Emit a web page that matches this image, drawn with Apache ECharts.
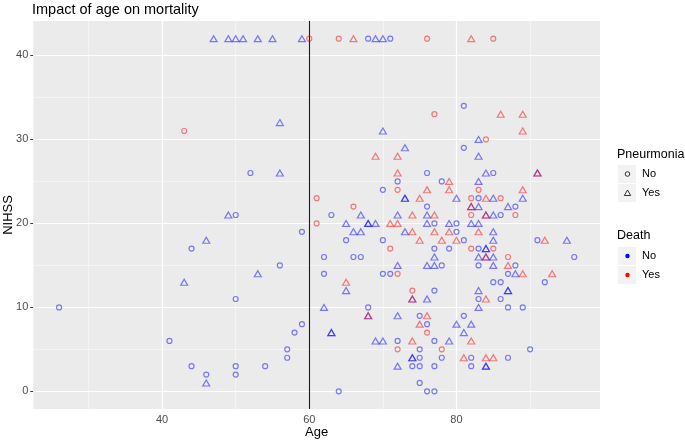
<!DOCTYPE html>
<html><head><meta charset="utf-8">
<script src="https://cdn.jsdelivr.net/npm/echarts@6/dist/echarts.min.js"></script>
<style>html,body{margin:0;padding:0;background:#fff}#c{width:685px;height:443px}</style>
</head><body><div id="c"></div>
<script>
// ---- data: [age, NIHSS] ----
const noPneuAlive = [[68,42],[71,42],[81,34],[81,29],[76,26],[85,26],[52,26],[72,25],[78,25],[70,24],[83,23],[76,22],[88,22],[63,21],[50,21],[86,21],[77,20],[80,20],[59,19],[80,19],[65,18],[70,18],[81,18],[91,18],[44,17],[77,17],[79,17],[83,17],[62,16],[66,16],[67,16],[96,16],[56,15],[78,15],[83,15],[88,15],[62,14],[70,14],[71,14],[87,14],[85,13],[86,13],[92,13],[77,12],[50,11],[83,11],[86,11],[26,10],[68,10],[87,10],[89,10],[75,9],[81,9],[59,8],[76,8],[58,7],[41,6],[72,6],[77,6],[57,5],[75,5],[90,5],[57,4],[75,4],[78,4],[82,4],[87,4],[44,3],[50,3],[54,3],[74,3],[75,3],[77,3],[82,3],[46,2],[50,2],[75,1],[64,0],[76,0],[77,0]];
const noPneuDied = [[60,42],[64,42],[76,42],[85,42],[77,33],[84,30],[43,31],[72,24],[83,24],[61,23],[82,23],[86,23],[66,22],[82,21],[88,21],[61,20],[71,17],[82,17],[85,17],[87,16],[72,14],[74,12],[76,7],[72,5],[78,5]];
const pneuAlive = [[47,42],[49,42],[50,42],[51,42],[53,42],[55,42],[59,42],[69,42],[70,42],[56,32],[70,31],[83,30],[73,29],[83,28],[56,26],[84,26],[91,26],[83,25],[73,23],[73,23],[80,23],[85,23],[89,23],[82,22],[83,22],[87,22],[49,21],[67,21],[72,21],[76,21],[84,21],[85,21],[65,20],[68,20],[68,20],[69,20],[76,20],[79,20],[82,20],[83,20],[66,19],[67,19],[73,19],[85,19],[46,18],[85,18],[95,18],[84,17],[84,17],[77,16],[83,16],[84,16],[85,16],[72,15],[76,15],[77,15],[85,15],[53,14],[88,14],[43,13],[65,12],[83,12],[87,12],[87,12],[74,11],[76,11],[62,10],[83,10],[68,9],[72,9],[80,8],[82,8],[63,7],[63,7],[81,7],[69,6],[70,6],[79,6],[74,4],[74,4],[72,3],[84,3],[84,3],[46,1]];
const pneuDied = [[66,42],[82,42],[86,33],[89,33],[89,31],[69,28],[72,28],[72,26],[91,26],[79,25],[76,24],[79,24],[89,24],[75,23],[84,23],[82,22],[74,21],[77,21],[84,21],[71,20],[72,20],[74,19],[77,19],[79,19],[83,19],[75,18],[78,18],[80,18],[92,18],[84,16],[87,15],[89,14],[93,14],[65,13],[84,11],[74,11],[68,9],[76,9],[75,8],[74,6],[82,6],[81,4],[84,4],[85,4]];

// ---- ticks / reference ----
const xMajor = [40, 60, 80];
const xMinor = [30, 50, 70, 90];
const yMajor = [0, 10, 20, 30, 40];
const yMinor = [5, 15, 25, 35];
const vlineAge = 60;
const xRange = [22.5, 99.5];
const yRange = [-2.1, 44.1];

const BLUE = 'rgba(0,0,255,0.62)';
const RED = 'rgba(255,0,0,0.62)';
const FONT = 'Liberation Sans, Arial, sans-serif';

function pts(data, shape, color) {
  return {
    type: 'scatter', data: data, z: 3,
    symbol: shape,
    symbolSize: shape === 'triangle' ? [7, 6] : 5,
    itemStyle: { color: 'rgba(0,0,0,0)', borderColor: color, borderWidth: 1.2 },
    emphasis: { disabled: true }
  };
}

const gridLines = [];
xMinor.forEach(v => gridLines.push({ xAxis: v, lineStyle: { type: 'solid', width: 0.6, color: '#FAFAFA' } }));
yMinor.forEach(v => gridLines.push({ yAxis: v, lineStyle: { type: 'solid', width: 0.6, color: '#FAFAFA' } }));
xMajor.forEach(v => gridLines.push({ xAxis: v, lineStyle: { type: 'solid', width: 1.2, color: '#FFFFFF' } }));
yMajor.forEach(v => gridLines.push({ yAxis: v, lineStyle: { type: 'solid', width: 1.2, color: '#FFFFFF' } }));

const chart = echarts.init(document.getElementById('c'), null, { renderer: 'canvas' });
const option = {
  animation: false,
  textStyle: { fontFamily: FONT },
  title: {
    text: 'Impact of age on mortality', left: 32, top: 2, padding: 0,
    textStyle: { fontSize: 14.5, fontWeight: 'normal', color: '#000', fontFamily: FONT }
  },
  grid: { left: 33.3, right: 85, top: 21, bottom: 34, show: true, backgroundColor: '#EBEBEB', borderWidth: 0,
          containLabel: false, outerBoundsMode: 'none' },
  xAxis: {
    type: 'value', min: xRange[0], max: xRange[1],
    name: 'Age', nameLocation: 'middle', nameGap: 17, nameMoveOverlap: false,
    nameTextStyle: { fontSize: 13, color: '#000', fontFamily: FONT },
    axisLine: { show: false },
    axisTick: { show: true, length: 3, customValues: xMajor, lineStyle: { color: '#333', width: 1 } },
    axisLabel: { customValues: xMajor, color: '#4D4D4D', fontSize: 11, margin: 5, fontFamily: FONT },
    splitLine: { show: false }
  },
  yAxis: {
    type: 'value', min: yRange[0], max: yRange[1],
    name: 'NIHSS', nameLocation: 'middle', nameGap: 18, nameRotate: 90, nameMoveOverlap: false,
    nameTextStyle: { fontSize: 13, color: '#000', fontFamily: FONT },
    axisLine: { show: false },
    axisTick: { show: true, length: 3, customValues: yMajor, lineStyle: { color: '#333', width: 1 } },
    axisLabel: { customValues: yMajor, color: '#4D4D4D', fontSize: 11, margin: 5, fontFamily: FONT },
    splitLine: { show: false }
  },
  series: [
    {
      type: 'scatter', data: [], z: 1, silent: true,
      markLine: { z: 1, silent: true, symbol: ['none', 'none'], label: { show: false }, data: gridLines, animation: false }
    },
    {
      type: 'scatter', data: [], z: 2, silent: true,
      markLine: { z: 2, silent: true, symbol: ['none', 'none'], label: { show: false },
        lineStyle: { type: 'solid', color: '#1a1a1a', width: 1.1 },
        data: [{ xAxis: vlineAge }], animation: false }
    },
    pts(noPneuAlive, 'circle', BLUE),
    pts(noPneuDied, 'circle', RED),
    pts(pneuAlive, 'triangle', BLUE),
    pts(pneuDied, 'triangle', RED)
  ],
  graphic: [
    { type: 'text', left: 617, top: 148, style: { text: 'Pneurmonia', font: '12.5px ' + FONT, fill: '#000' } },
    { type: 'rect', shape: { x: 618, y: 165, width: 18, height: 18 }, style: { fill: '#F2F2F2' } },
    { type: 'rect', shape: { x: 618, y: 184, width: 18, height: 18 }, style: { fill: '#F2F2F2' } },
    { type: 'circle', shape: { cx: 627.5, cy: 174, r: 2.3 }, style: { fill: 'none', stroke: '#333', lineWidth: 1 } },
    { type: 'polygon', shape: { points: [[627.5, 190], [624.3, 195.5], [630.7, 195.5]] }, style: { fill: 'none', stroke: '#333', lineWidth: 1 } },
    { type: 'text', left: 642, top: 168, style: { text: 'No', font: '11px ' + FONT, fill: '#000' } },
    { type: 'text', left: 642, top: 187, style: { text: 'Yes', font: '11px ' + FONT, fill: '#000' } },

    { type: 'text', left: 617, top: 229, style: { text: 'Death', font: '12.5px ' + FONT, fill: '#000' } },
    { type: 'rect', shape: { x: 618, y: 247, width: 18, height: 18 }, style: { fill: '#F2F2F2' } },
    { type: 'rect', shape: { x: 618, y: 266, width: 18, height: 18 }, style: { fill: '#F2F2F2' } },
    { type: 'circle', shape: { cx: 627.5, cy: 256, r: 2.2 }, style: { fill: '#0000FF' } },
    { type: 'circle', shape: { cx: 627.5, cy: 275, r: 2.2 }, style: { fill: '#FF0000' } },
    { type: 'text', left: 642, top: 250, style: { text: 'No', font: '11px ' + FONT, fill: '#000' } },
    { type: 'text', left: 642, top: 269, style: { text: 'Yes', font: '11px ' + FONT, fill: '#000' } }
  ]
};
chart.setOption(option);
</script>
</body></html>
